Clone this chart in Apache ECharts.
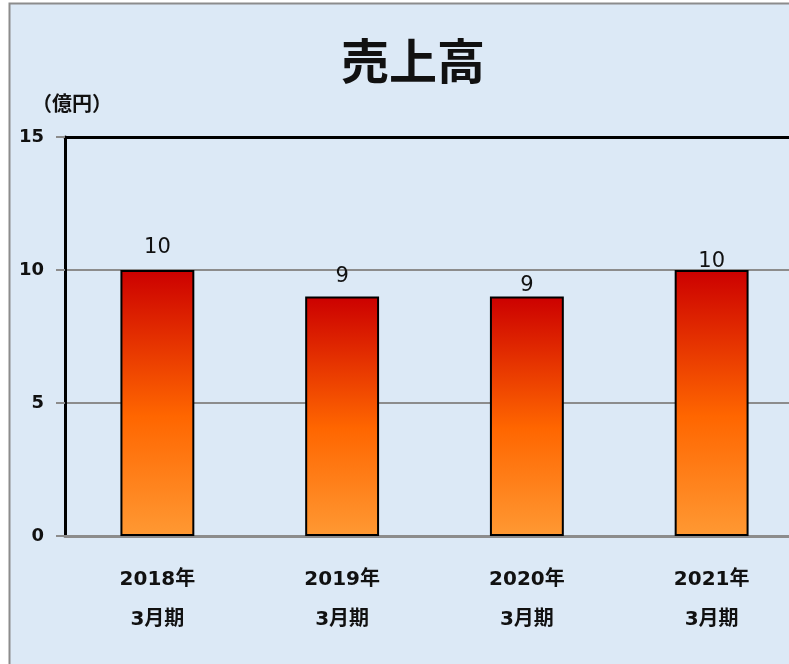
<!DOCTYPE html>
<html>
<head>
<meta charset="utf-8">
<script src="https://cdn.jsdelivr.net/npm/echarts@6/dist/echarts.min.js"></script>
<style>
  html, body { margin: 0; padding: 0; background: #fff; overflow: hidden; }
  /* the plot runs a little past the right edge of the window, as in the picture */
  #chart { width: 804px; height: 664px; }
</style>
</head>
<body>
<div id="chart"></div>
<script>
const categories = ['2018年\n3月期', '2019年\n3月期', '2020年\n3月期', '2021年\n3月期']
const sales = [10, 9, 9, 10]
const yTicks = [0, 5, 10, 15]

// gap between bar top and its value label (as in the picture)
const labelGap = [12, 10, 1, -2]

const chart = echarts.init(document.getElementById('chart'))

const barColor = new echarts.graphic.LinearGradient(0, 0, 0, 1, [
  { offset: 0, color: '#cc0000' },
  { offset: 0.55, color: '#ff6600' },
  { offset: 1, color: '#ff9933' }
])

const labelFont = '"DejaVu Sans", "Noto Sans CJK JP"'

chart.setOption({
  backgroundColor: '#ffffff',
  animation: false,
  graphic: [
    {
      type: 'rect',
      z: -10,
      shape: { x: 9.5, y: 3.5, width: 820, height: 700 },
      style: { fill: '#dce9f6', stroke: '#8c8c8c', lineWidth: 2 }
    },
    {
      type: 'text',
      left: 32,
      top: 93,
      style: {
        text: '（億円）',
        fontFamily: 'Noto Sans CJK JP',
        fontWeight: 'bold',
        fontSize: 20,
        fill: '#111'
      }
    }
  ],
  title: {
    text: '売上高',
    left: 408,
    textAlign: 'center',
    top: 32,
    textStyle: {
      fontFamily: 'Noto Sans CJK JP',
      fontWeight: 'bold',
      fontSize: 48,
      color: '#111'
    }
  },
  grid: {
    left: 65,
    right: 0,
    top: 137,
    bottom: 128,
    containLabel: false
  },
  xAxis: [
    {
      type: 'category',
      data: categories,
      axisLine: { lineStyle: { color: '#8c8c8c', width: 3 } },
      axisTick: { length: 8, lineStyle: { color: '#8c8c8c', width: 3 } },
      axisLabel: {
        margin: 24,
        lineHeight: 40,
        fontFamily: labelFont,
        fontWeight: 'bold',
        fontSize: 20,
        color: '#111'
      }
    },
    {
      type: 'category',
      position: 'top',
      data: categories,
      axisLine: { lineStyle: { color: '#000', width: 3 } },
      axisTick: { show: false },
      axisLabel: { show: false }
    }
  ],
  yAxis: {
    type: 'value',
    min: yTicks[0],
    max: yTicks[yTicks.length - 1],
    interval: 5,
    axisLine: { show: true, lineStyle: { color: '#000', width: 3 } },
    axisTick: { show: true, length: 9, lineStyle: { color: '#8c8c8c', width: 2 } },
    axisLabel: {
      margin: 21,
      fontFamily: labelFont,
      fontWeight: 'bold',
      fontSize: 18,
      color: '#111'
    },
    splitLine: { lineStyle: { color: '#8c8c8c', width: 2 } }
  },
  series: [
    {
      type: 'bar',
      barWidth: '40%',
      data: sales.map((v, i) => ({
        value: v,
        label: { distance: labelGap[i] }
      })),
      itemStyle: {
        color: barColor,
        borderColor: '#000',
        borderWidth: 2
      },
      label: {
        show: true,
        position: 'top',
        fontFamily: 'DejaVu Sans',
        fontSize: 21,
        color: '#111'
      }
    }
  ]
})
</script>
</body>
</html>
